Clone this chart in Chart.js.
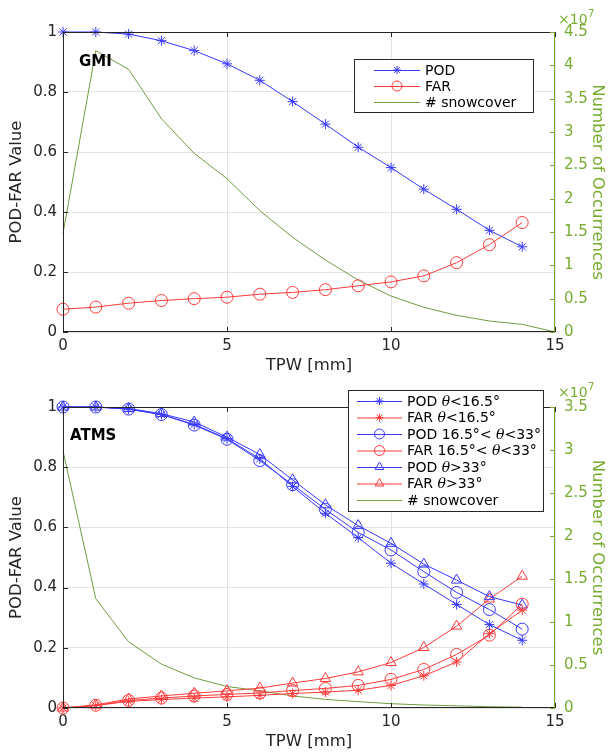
<!DOCTYPE html>
<html>
<head>
<meta charset="utf-8">
<script src="https://cdn.jsdelivr.net/npm/chart.js@4"></script>
<style>
    body { margin: 0; background: #fff; }
    .panel { position: relative; width: 608px; height: 376px; }
</style>
</head>
<body>
<div class="panel"><canvas id="gmiChart"></canvas></div>
<div class="panel"><canvas id="atmsChart"></canvas></div>
<script>
// x values (TPW, mm)
const tpw = [0, 1, 2, 3, 4, 5, 6, 7, 8, 9, 10, 11, 12, 13, 14];
const tpwSnowGmi = [0, 1, 2, 3, 4, 5, 6, 7, 8, 9, 10, 11, 12, 13, 14, 15];

// GMI panel
const gmiPod = [1.0, 1.0, 0.993, 0.971, 0.938, 0.894, 0.839, 0.768, 0.693, 0.616, 0.548, 0.476, 0.409, 0.339, 0.284];
const gmiFar = [0.076, 0.083, 0.096, 0.105, 0.111, 0.116, 0.126, 0.132, 0.141, 0.154, 0.167, 0.187, 0.231, 0.291, 0.365];
const gmiSnowE7 = [1.48, 4.22, 3.94, 3.20, 2.68, 2.30, 1.82, 1.42, 1.08, 0.78, 0.54, 0.37, 0.25, 0.165, 0.115, 0];

// ATMS panel
const atmsPodLow = [1.0, 1.0, 0.993, 0.975, 0.942, 0.895, 0.828, 0.736, 0.647, 0.566, 0.481, 0.412, 0.344, 0.277, 0.225];
const atmsPodMid = [1.0, 1.0, 0.993, 0.975, 0.940, 0.893, 0.822, 0.742, 0.660, 0.583, 0.525, 0.453, 0.384, 0.327, 0.262];
const atmsPodHigh = [1.0, 1.0, 0.995, 0.978, 0.950, 0.900, 0.842, 0.758, 0.675, 0.606, 0.547, 0.478, 0.425, 0.370, 0.342];
const atmsFarLow = [0.0, 0.008, 0.022, 0.028, 0.033, 0.037, 0.042, 0.048, 0.053, 0.059, 0.075, 0.107, 0.153, 0.247, 0.325];
const atmsFarMid = [0.0, 0.009, 0.025, 0.033, 0.040, 0.045, 0.050, 0.058, 0.065, 0.075, 0.095, 0.128, 0.178, 0.242, 0.345];
const atmsFarHigh = [0.0, 0.010, 0.030, 0.040, 0.049, 0.057, 0.066, 0.083, 0.098, 0.120, 0.151, 0.201, 0.272, 0.362, 0.438];
const atmsSnowE7 = [2.99, 1.27, 0.77, 0.51, 0.35, 0.25, 0.20, 0.14, 0.10, 0.074, 0.05, 0.035, 0.025, 0.015, 0.01];

const BLUE = '#3838ff';
const RED = '#ff3a3a';
const GREEN_LINE = '#6f9c3d';
const GREEN_AXIS = '#77ac30';
const DARK = '#262626';
const FONT = "'DejaVu Sans', sans-serif";

const toXY = (xs, ys) => ys.map((v, i) => ({ x: xs[i], y: v }));

function series(label, xs, ys, color, style, radius, axis = 'y') {
    return {
        label,
        data: toXY(xs, ys),
        yAxisID: axis,
        borderColor: color,
        backgroundColor: 'rgba(0,0,0,0)',
        borderWidth: 1,
        pointStyle: style || false,
        pointRadius: style ? radius : 0,
        pointBorderColor: color,
        pointBackgroundColor: 'rgba(0,0,0,0)',
        pointBorderWidth: 1,
        tension: 0,
        clip: false
    };
}

// draws frame, inward ticks, exponent label, panel label and legend
const matlabDecor = {
    id: 'matlabDecor',
    afterDraw(chart, args, opts) {
        const { ctx, chartArea: a, scales } = chart;
        ctx.save();
        ctx.lineWidth = 1;
        // frame
        ctx.strokeStyle = DARK;
        ctx.beginPath();
        ctx.moveTo(a.right, a.top + 0.5); ctx.lineTo(a.left + 0.5, a.top + 0.5);
        ctx.lineTo(a.left + 0.5, a.bottom - 0.5); ctx.lineTo(a.right, a.bottom - 0.5);
        ctx.stroke();
        ctx.strokeStyle = GREEN_AXIS;
        ctx.beginPath();
        ctx.moveTo(a.right - 0.5, a.top); ctx.lineTo(a.right - 0.5, a.bottom);
        ctx.stroke();
        // inward ticks
        ctx.strokeStyle = DARK;
        ctx.beginPath();
        scales.x.ticks.forEach(t => {
            const px = Math.round(scales.x.getPixelForValue(t.value)) + 0.5;
            ctx.moveTo(px, a.bottom); ctx.lineTo(px, a.bottom - 5);
            ctx.moveTo(px, a.top); ctx.lineTo(px, a.top + 5);
        });
        scales.y.ticks.forEach(t => {
            const py = Math.round(scales.y.getPixelForValue(t.value)) + 0.5;
            ctx.moveTo(a.left, py); ctx.lineTo(a.left + 5, py);
        });
        ctx.stroke();
        ctx.strokeStyle = GREEN_AXIS;
        ctx.beginPath();
        scales.y2.ticks.forEach(t => {
            const py = Math.round(scales.y2.getPixelForValue(t.value)) + 0.5;
            ctx.moveTo(a.right, py); ctx.lineTo(a.right - 5, py);
        });
        ctx.stroke();

        // exponent label
        ctx.fillStyle = GREEN_AXIS;
        ctx.textBaseline = 'middle';
        ctx.textAlign = 'left';
        ctx.font = `14px ${FONT}`;
        ctx.fillText('×10', 558, opts.expY);
        ctx.font = `10px ${FONT}`;
        ctx.fillText('7', 588, opts.expY - 6);

        // panel label
        ctx.fillStyle = '#000';
        ctx.font = `bold 15px ${FONT}`;
        ctx.fillText(opts.panel, opts.panelX, opts.panelY);

        // legend
        const L = opts.legend;
        ctx.fillStyle = '#fff';
        ctx.fillRect(L.x, L.y, L.w, L.h);
        ctx.strokeStyle = DARK;
        ctx.strokeRect(L.x + 0.5, L.y + 0.5, L.w - 1, L.h - 1);
        chart.data.datasets.forEach((ds, i) => {
            const yy = L.firstRow + i * L.rowGap;
            ctx.strokeStyle = ds.borderColor;
            ctx.beginPath();
            ctx.moveTo(L.lineX0, yy + 0.5); ctx.lineTo(L.lineX1, yy + 0.5);
            ctx.stroke();
            if (ds.pointStyle) {
                ctx.fillStyle = 'rgba(0,0,0,0)';
                ctx.strokeStyle = ds.borderColor;
                Chart.helpers.drawPoint(ctx, {
                    pointStyle: ds.pointStyle, radius: ds.pointRadius - 1, rotation: 0, borderWidth: 1
                }, (L.lineX0 + L.lineX1) / 2, yy);
            }
            // text, theta in italic
            let tx = L.textX;
            ds.label.split(/(θ)/).forEach(part => {
                if (!part) return;
                ctx.font = part === 'θ' ? `italic 14px 'DejaVu Serif', serif` : `14px ${FONT}`;
                ctx.fillStyle = '#000';
                ctx.fillText(part, tx, yy + 1);
                tx += ctx.measureText(part).width;
            });
        });
        ctx.restore();
    }
};

function buildOptions(rightMax, topPad, decor) {
    const tickFont = { family: FONT, size: 15 };
    const titleFont = { family: FONT, size: 16.5 };
    return {
        responsive: false,
        animation: false,
        layout: { padding: { top: topPad, left: 0, right: 0, bottom: 0 } },
        plugins: { legend: { display: false }, tooltip: { enabled: false }, matlabDecor: decor },
        scales: {
            x: {
                type: 'linear', min: 0, max: 15,
                ticks: { stepSize: 5, color: DARK, font: tickFont, padding: 5, maxRotation: 0 },
                grid: { color: '#e3e3e3', drawTicks: false },
                border: { display: false },
                title: { display: true, text: 'TPW [mm]', color: DARK, font: titleFont, padding: { top: 0, bottom: 0 } },
                afterFit: s => { s.height = 44; }
            },
            y: {
                position: 'left', min: 0, max: 1,
                ticks: { stepSize: 0.2, color: DARK, font: tickFont, padding: 6, callback: v => String(Math.round(v * 10) / 10) },
                grid: { color: '#e3e3e3', drawTicks: false },
                border: { display: false },
                title: { display: true, text: 'POD-FAR Value', color: DARK, font: titleFont, padding: { top: 7, bottom: 0 } },
                afterFit: s => { s.width = 63; }
            },
            y2: {
                position: 'right', min: 0, max: rightMax,
                ticks: { stepSize: 0.5, color: GREEN_AXIS, font: tickFont, padding: 9, callback: v => String(Math.round(v * 10) / 10) },
                grid: { drawOnChartArea: false, drawTicks: false },
                border: { display: false },
                title: { display: true, text: 'Number of Occurrences', color: GREEN_AXIS, font: titleFont, padding: { top: 1, bottom: 0 } },
                afterFit: s => { s.width = 53; }
            }
        }
    };
}

function makeCanvas(id) {
    const c = document.getElementById(id);
    c.width = 608; c.height = 376;
    c.style.width = '608px'; c.style.height = '376px';
    return c;
}

new Chart(makeCanvas('gmiChart'), {
    type: 'line',
    data: {
        datasets: [
            series('POD', tpw, gmiPod, BLUE, 'star', 5),
            series('FAR', tpw, gmiFar, RED, 'circle', 6),
            series('# snowcover', tpwSnowGmi, gmiSnowE7, GREEN_LINE, null, 0, 'y2')
        ]
    },
    options: buildOptions(4.5, 32, {
        expY: 20, panel: 'GMI', panelX: 79, panelY: 62,
        legend: { x: 354, y: 59, w: 180, h: 54, firstRow: 70, rowGap: 16, lineX0: 374, lineX1: 420, textX: 425 }
    }),
    plugins: [matlabDecor]
});

new Chart(makeCanvas('atmsChart'), {
    type: 'line',
    data: {
        datasets: [
            series('POD θ<16.5°', tpw, atmsPodLow, BLUE, 'star', 5),
            series('FAR θ<16.5°', tpw, atmsFarLow, RED, 'star', 5),
            series('POD 16.5°< θ<33°', tpw, atmsPodMid, BLUE, 'circle', 6),
            series('FAR 16.5°< θ<33°', tpw, atmsFarMid, RED, 'circle', 6),
            series('POD θ>33°', tpw, atmsPodHigh, BLUE, 'triangle', 6),
            series('FAR θ>33°', tpw, atmsFarHigh, RED, 'triangle', 6),
            series('# snowcover', tpw, atmsSnowE7, GREEN_LINE, null, 0, 'y2')
        ]
    },
    options: buildOptions(3.5, 31, {
        expY: 17, panel: 'ATMS', panelX: 70, panelY: 60,
        legend: { x: 348, y: 14, w: 196, h: 122, firstRow: 25, rowGap: 16.5, lineX0: 357, lineX1: 402, textX: 407 }
    }),
    plugins: [matlabDecor]
});
</script>
</body>
</html>
